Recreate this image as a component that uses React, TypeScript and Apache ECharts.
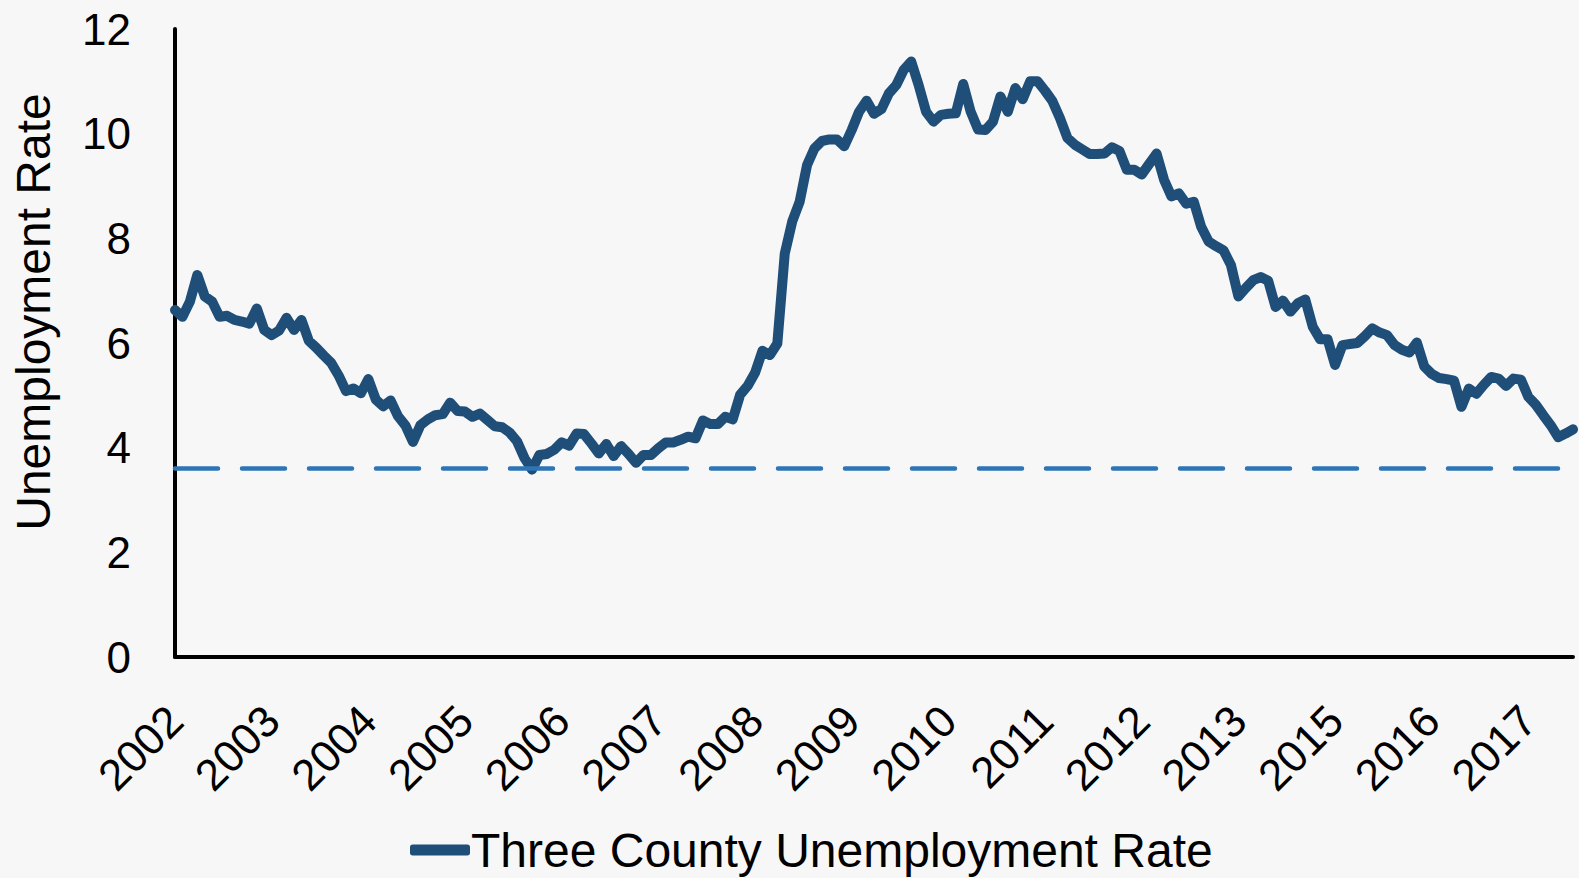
import React, { useEffect, useRef } from "react";
import * as echarts from "echarts";

// Monthly data, Jan 2002 onward (category labels show the year of every 13th month)
const years = [2002, 2003, 2004, 2005, 2006, 2007, 2008, 2009, 2010, 2011, 2012, 2013, 2014, 2015, 2016, 2017];
const monthNames = ["01", "02", "03", "04", "05", "06", "07", "08", "09", "10", "11", "12"];

const rates = [
  6.63, 6.5, 6.79, 7.3, 6.89, 6.79, 6.5, 6.52, 6.44, 6.41, 6.37, 6.66,
  6.25, 6.15, 6.24, 6.48, 6.25, 6.44, 6.04, 5.91, 5.76, 5.62, 5.38, 5.08,
  5.13, 5.04, 5.31, 4.92, 4.79, 4.9, 4.6, 4.42, 4.11, 4.43, 4.54, 4.62,
  4.64, 4.86, 4.7, 4.69, 4.59, 4.65, 4.53, 4.41, 4.39, 4.29, 4.12, 3.8,
  3.58, 3.86, 3.88, 3.96, 4.1, 4.04, 4.27, 4.26, 4.08, 3.89, 4.07, 3.84,
  4.03, 3.88, 3.71, 3.86, 3.86, 3.99, 4.1, 4.1, 4.15, 4.21, 4.18, 4.52,
  4.45, 4.45, 4.59, 4.54, 5.01, 5.18, 5.43, 5.85, 5.77, 5.99, 7.71, 8.32,
  8.7, 9.4, 9.72, 9.86, 9.89, 9.89, 9.76, 10.07, 10.42, 10.63, 10.38, 10.47,
  10.77, 10.93, 11.22, 11.38, 10.93, 10.42, 10.23, 10.36, 10.38, 10.39, 10.95, 10.42,
  10.08, 10.07, 10.23, 10.71, 10.42, 10.87, 10.66, 11.0, 11.0, 10.82, 10.62, 10.3,
  9.92, 9.79, 9.7, 9.61, 9.61, 9.62, 9.74, 9.67, 9.31, 9.31, 9.22, 9.42,
  9.62, 9.12, 8.8, 8.86, 8.66, 8.7, 8.22, 7.94, 7.85, 7.77, 7.49, 6.89,
  7.05, 7.2, 7.26, 7.19, 6.69, 6.81, 6.6, 6.76, 6.83, 6.31, 6.07, 6.07,
  5.58, 5.96, 5.98, 6.0, 6.13, 6.28, 6.2, 6.15, 5.96, 5.87, 5.82, 6.01,
  5.55, 5.41, 5.33, 5.31, 5.28, 4.78, 5.13, 5.03, 5.2, 5.35, 5.32, 5.18,
  5.32, 5.3, 4.97, 4.82, 4.62, 4.43, 4.2, 4.27, 4.35,
];

const referenceRate = 3.6;
const seriesName = "Three County Unemployment Rate";
const yAxisTitle = "Unemployment Rate";
const yMin = 0;
const yMax = 12;
const yStep = 2;

const FONT = "'Liberation Sans', Arial, sans-serif";

export default function App() {
  const ref = useRef<HTMLDivElement>(null);

  useEffect(() => {
    if (!ref.current) return;
    const chart = echarts.init(ref.current, null, { renderer: "svg" });
    const categories: string[] = [];
    years.forEach((y) => monthNames.forEach((m) => categories.push(`${y}-${m}`)));
    const cats = categories.slice(0, rates.length);

    chart.setOption({
      animation: false,
      backgroundColor: "#f7f7f7",
      grid: { left: 175, right: 6, top: 29, bottom: 221, containLabel: false },
      xAxis: {
        type: "category",
        data: cats,
        boundaryGap: false,
        axisLine: { show: true, lineStyle: { color: "#000", width: 4 } },
        axisTick: { show: false },
        splitLine: { show: false },
        axisLabel: {
          interval: 12,
          rotate: 45,
          margin: 56,
          color: "#000",
          fontSize: 44,
          fontFamily: FONT,
          formatter: (v: string) => v.slice(0, 4),
        },
      },
      yAxis: {
        type: "value",
        min: yMin,
        max: yMax,
        interval: yStep,
        axisLine: { show: true, lineStyle: { color: "#000", width: 4 } },
        axisTick: { show: false },
        splitLine: { show: false },
        axisLabel: { color: "#000", fontSize: 44, fontFamily: FONT, margin: 44 },
      },
      legend: {
        show: true,
        left: 410,
        top: 826,
        padding: 0,
        itemWidth: 60,
        itemHeight: 11,
        itemGap: 0,
        icon: "roundRect",
        textStyle: { color: "#000", fontSize: 48, lineHeight: 48, fontFamily: FONT, padding: [0, 0, 0, -4] },
        data: [{ name: seriesName, itemStyle: { color: "#1f4e79" } }],
      },
      graphic: [
        {
          type: "text",
          x: 33,
          y: 312,
          rotation: Math.PI / 2,
          style: {
            text: yAxisTitle,
            font: `48px ${FONT}`,
            fill: "#000",
            textAlign: "center",
            textVerticalAlign: "middle",
          },
        },
      ],
      series: [
        {
          name: seriesName,
          type: "line",
          data: rates,
          showSymbol: false,
          symbol: "none",
          lineStyle: { color: "#1f4e79", width: 10, join: "round", cap: "round" },
          itemStyle: { color: "#1f4e79" },
          markLine: {
            silent: true,
            symbol: "none",
            label: { show: false },
            lineStyle: { color: "#2e75b6", width: 4.5, type: [43, 24], cap: "round" },
            data: [{ yAxis: referenceRate }],
            z: 10,
          },
        },
      ],
    });
    return () => chart.dispose();
  }, []);

  return (
    <div
      ref={ref}
      style={{ position: "absolute", left: 0, top: 0, width: 1579, height: 878, background: "#f7f7f7" }}
    />
  );
}
